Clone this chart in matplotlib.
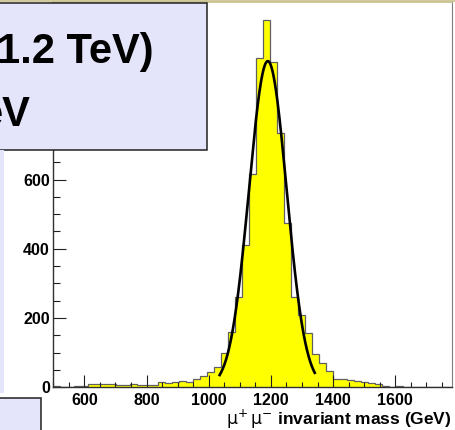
import numpy as np
import matplotlib
matplotlib.use("Agg")
import matplotlib.pyplot as plt
from matplotlib.patches import Rectangle
from matplotlib.ticker import MultipleLocator

# Histogram binning (GeV) and bin contents
bin_low = 500.0
bin_width = 22.5
counts = [3, 1, 0, 5, 5, 10, 10, 10, 10, 7,
          7, 10, 7, 7, 7, 15, 12, 15, 17, 15,
          24, 34, 43, 59, 99, 161, 262, 410, 617, 952,
          1061, 939, 733, 473, 261, 208, 158, 95, 71, 46,
          25, 23, 22, 17, 15, 12, 10, 5, 1, 3,
          1, 1, 0, 0, 0, 0, 0]

# Gaussian fit result
fit_amp = 942.0
fit_mean = 1190.0
fit_sigma = 60.5
fit_range = (1035.0, 1341.0)

x_ticks = [600, 800, 1000, 1200, 1400, 1600]
y_ticks = [0, 200, 400, 600]
title_lines = ["1.2 TeV)", "eV"]
x_title = r"$\mathrm{\mu^{+}\,\mu^{-}}$ invariant mass (GeV)"

W, H = 456, 430
lavender = "#e4e4fa"
plt.rcParams["font.family"] = ["Liberation Sans", "DejaVu Sans"]

fig = plt.figure(figsize=(W / 100, H / 100), dpi=100)
fig.patch.set_facecolor("white")


def px(x0, y0, x1, y1):
    # pixel box (from top-left) -> figure fraction rect
    return (x0 / W, 1 - y1 / H, (x1 - x0) / W, (y1 - y0) / H)


def pave(x0, y0, x1, y1, edge):
    r = px(x0, y0, x1, y1)
    fig.add_artist(Rectangle(r[:2], r[2], r[3], transform=fig.transFigure,
                             facecolor=lavender, edgecolor=edge, lw=1.1, zorder=5))


ax = fig.add_axes(px(53.3, 1.5, 452, 387.3))

edges = bin_low + bin_width * np.arange(len(counts) + 1)
ax.stairs(counts, edges, fill=True, color="#ffff00", lw=0, zorder=1)
ax.stairs(counts, edges, fill=False, color="#606060", lw=0.9, zorder=1.2)

xf = np.linspace(fit_range[0], fit_range[1], 300)
yf = fit_amp * np.exp(-0.5 * ((xf - fit_mean) / fit_sigma) ** 2)
ax.plot(xf, yf, color="black", lw=1.9, zorder=1.5)

ax.set_xlim(bin_low, edges[-1])
ax.set_ylim(0, 1.05 * max(counts))

ax.set_xticks(x_ticks)
ax.set_yticks(y_ticks)
ax.xaxis.set_minor_locator(MultipleLocator(50))
ax.yaxis.set_minor_locator(MultipleLocator(50))
ax.tick_params(axis="both", which="both", direction="in", color="#202020", width=0.8)
ax.tick_params(axis="x", which="major", length=8.5, pad=4)
ax.tick_params(axis="x", which="minor", length=3.5)
ax.tick_params(axis="y", which="major", length=9, pad=2.5)
ax.tick_params(axis="y", which="minor", length=4.8)
for lab in ax.get_xticklabels() + ax.get_yticklabels():
    lab.set_fontsize(11.5)
    lab.set_fontweight("bold")

for side in ["left", "bottom"]:
    ax.spines[side].set_color("#303030")
    ax.spines[side].set_linewidth(1.0)
ax.spines["right"].set_color("#808080")
ax.spines["top"].set_color("#c8c08a")
ax.spines["top"].set_linewidth(1.2)

ax.set_xlabel(x_title, fontsize=12.5, fontweight="bold", ha="right")
ax.xaxis.set_label_coords(1.0, -(408 - 387.3) / 385.8)
ax.xaxis.label.set_va("top")

# thin line along the top of the canvas
fig.add_artist(plt.Line2D([0, 1], [1 - 0.7 / H, 1 - 0.7 / H], transform=fig.transFigure,
                          color="#c8c08a", lw=1.2))

# title pave, partly outside the canvas
pave(-30, 2.5, 207, 150, "#202020")
fig.text(154 / W, 1 - 63 / H, title_lines[0], fontsize=30, fontweight="bold",
         ha="right", va="baseline", zorder=6)
fig.text(30 / W, 1 - 126 / H, title_lines[1], fontsize=30, fontweight="bold",
         ha="right", va="baseline", zorder=6)

# edges of other paves cut by the canvas border
pave(-10, 150, 4, 393, "none")
pave(-10, 398, 41, 440, "#202020")

fig.savefig("out.png", dpi=100)
